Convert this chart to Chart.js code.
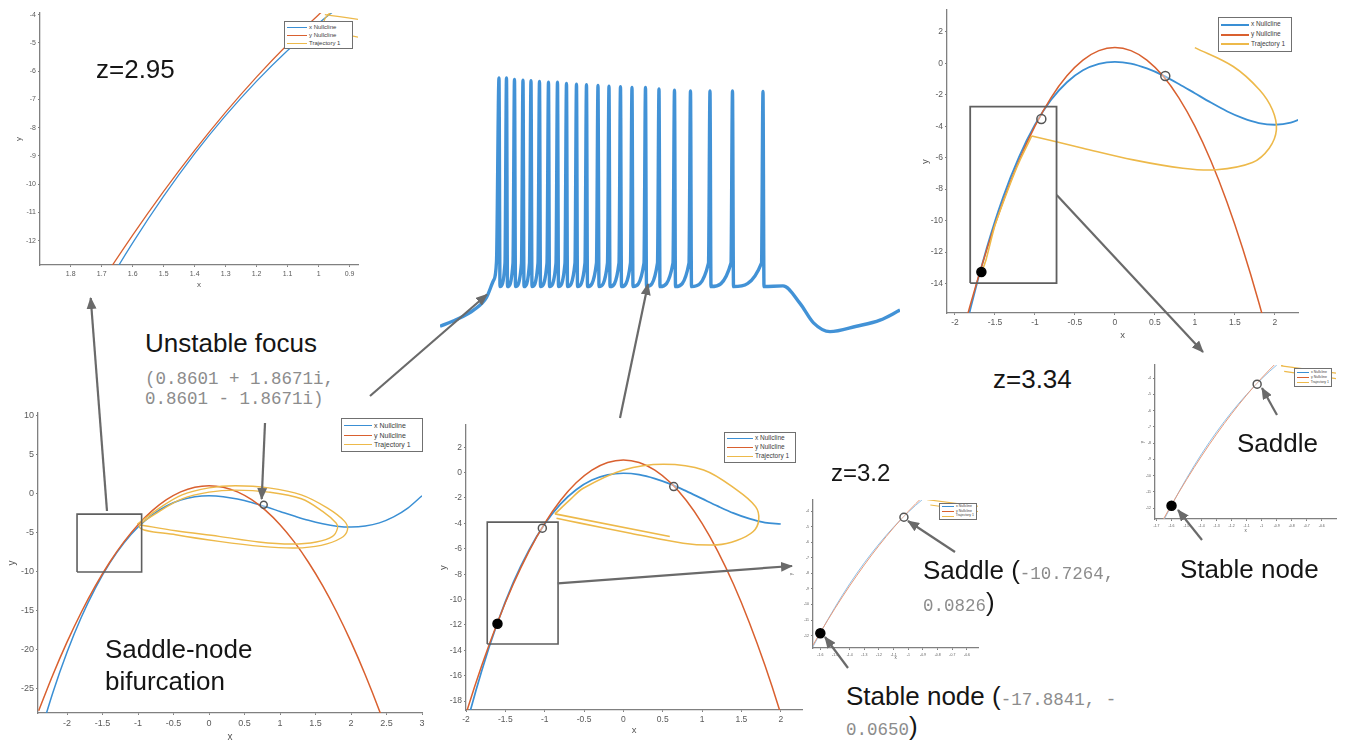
<!DOCTYPE html>
<html>
<head>
<meta charset="utf-8">
<script src="https://cdn.jsdelivr.net/npm/chart.js@4.4.1/dist/chart.umd.min.js"></script>
<style>
  body { margin:0; width:1345px; height:747px; position:relative; overflow:hidden; background:#fff; font-family:"Liberation Sans", Arial, sans-serif; }
  canvas { position:absolute; }
  .t { position:absolute; white-space:pre; color:#151515; font-size:26px; line-height:26px; z-index:3; }
  .m { font-family:"Liberation Mono", "Courier New", monospace; color:#8c8c8c; font-size:17.5px; }
  .lg { position:absolute; box-sizing:border-box; background:#fff; border:1px solid #707070; display:flex; flex-direction:column; justify-content:space-evenly; padding:0 2px; line-height:1; color:#3c3c3c; z-index:2; }
  .lg div { display:flex; align-items:center; white-space:nowrap; }
  .lg span { display:inline-block; margin-right:2px; }
  svg { position:absolute; left:0; top:0; z-index:5; }
</style>
</head>
<body>
<div class="t" style="left:96px;top:56px">z=2.95</div>
<div class="t" style="left:145px;top:330px">Unstable focus</div>
<div class="t m" style="left:145px;top:369px;line-height:20px">(0.8601 + 1.8671i,
0.8601 - 1.8671i)</div>
<div class="t" style="left:105px;top:633px;line-height:32px">Saddle-node
bifurcation</div>
<div class="t" style="left:831px;top:461px;font-size:24px;line-height:24px">z=3.2</div>
<div class="t" style="left:993px;top:366px">z=3.34</div>
<div class="t" style="left:923px;top:557px">Saddle (<span class="m">-10.7264,</span></div>
<div class="t" style="left:923px;top:589px"><span class="m">0.0826</span>)</div>
<div class="t" style="left:846px;top:683px">Stable node (<span class="m">-17.8841, -</span></div>
<div class="t" style="left:846px;top:713px"><span class="m">0.0650</span>)</div>
<div class="t" style="left:1237px;top:430px">Saddle</div>
<div class="t" style="left:1180px;top:556px">Stable node</div>
<svg id="arrows" width="1345" height="747"></svg>
<script>
Chart.defaults.font.family = '"Liberation Sans", Arial, sans-serif';

var BLUE = '#3a8fd4', RED = '#d9602f', YEL = '#edb94a';
var legendLabels = ['x Nullcline', 'y Nullcline', 'Trajectory 1'];
var legendColors = [BLUE, RED, YEL];

// nullclines, read on a 0.2 grid in x
var gridX = [-2.4,-2.2,-2.0,-1.8,-1.6,-1.4,-1.2,-1.0,-0.8,-0.6,-0.4,-0.2,0,0.2,0.4,0.6,0.8,1.0,1.2,1.4,1.6,1.8,2.0,2.2,2.4,2.6,2.8,3.0];
var yNull = [-27.8,-23.2,-19.0,-15.2,-11.8,-8.8,-6.2,-4.0,-2.2,-0.8,0.2,0.8,1.0,0.8,0.2,-0.8,-2.2,-4.0,-6.2,-8.8,-11.8,-15.2,-19.0,-23.2,-27.8,-32.8];
var xNull295 = [-31.40,-25.47,-20.30,-15.85,-12.08,-8.92,-6.35,-4.30,-2.73,-1.60,-0.84,-0.43,-0.30,-0.41,-0.72,-1.16,-1.71,-2.30,-2.89,-3.44,-3.88,-4.19,-4.30,-4.17,-3.76,-3.00,-1.87,-0.30];
var xNull32 = [-31.15,-25.22,-20.05,-15.60,-11.83,-8.67,-6.10,-4.05,-2.48,-1.35,-0.59,-0.18,-0.05,-0.16,-0.47,-0.91,-1.46,-2.05,-2.64,-3.19,-3.63,-3.94,-4.05];
var xNull334 = [-31.01,-25.08,-19.91,-15.46,-11.69,-8.53,-5.96,-3.91,-2.34,-1.21,-0.45,-0.04,0.09,-0.02,-0.33,-0.77,-1.32,-1.91,-2.50,-3.05,-3.49,-3.80,-3.91,-3.78,-3.37];

// trajectories [x, y]
var trajB = [[-1.01,-3.92],[-0.70,-1.87],[-0.38,-0.17],[0.0,0.72],[0.37,0.98],[0.84,0.72],[1.30,-0.17],[1.67,-1.87],[1.91,-3.57],[1.95,-4.65],[1.86,-5.70],[1.58,-6.64],[1.21,-6.98],[0.74,-6.77],[0.14,-6.13],[-0.47,-5.28],[-0.98,-4.35],
             [-0.70,-2.30],[-0.38,-0.68],[0.0,0.17],[0.37,0.43],[0.84,0.17],[1.30,-0.68],[1.60,-2.30],[1.79,-3.79],[1.81,-4.43],[1.74,-5.49],[1.51,-6.21],[1.16,-6.47],[0.70,-6.21],[0.14,-5.49],[-0.47,-4.77],[-0.98,-4.00]];
var trajC = [[-0.87,-3.25],[-0.68,-2.15],[-0.51,-1.23],[0.0,0.21],[0.51,0.66],[1.02,0.21],[1.44,-1.36],[1.68,-2.68],[1.72,-3.72],[1.65,-4.64],[1.44,-5.35],[1.19,-5.69],[0.76,-5.56],[0.09,-4.77],[-0.55,-3.98],[-0.85,-3.59]];
var trajCStart = [[-0.87,-3.25],[0.59,-5.04]];
var trajD = [[1.0,0.99],[1.48,-0.21],[1.81,-1.7],[1.97,-2.96],[2.02,-4.23],[1.93,-5.4],[1.72,-6.31],[1.27,-6.77],[0.85,-6.67],[0.23,-6.14],[-0.4,-5.4],[-1.04,-4.62]];
var trajDSlide = [[-1.04,-4.62],[-1.2,-6.3],[-1.32,-7.8],[-1.50,-10.3],[-1.61,-12.45],[-1.66,-13.2]];

// equilibria
var focusB = [[0.77,-1.45]];
var saddleC = [[-1.03,-4.38],[0.64,-1.1]], nodeC = [[-1.6,-11.9]];
var saddleD = [[-0.92,-3.54],[0.63,-0.81]], nodeD = [[-1.67,-13.27]];
var saddleZoom = [[-1.03,-4.38]], nodeZoom = [[-1.6,-11.85]];

// zoom boxes [x0, x1, y0, y1]
var boxB = [-1.86,-0.95,-10.05,-2.64];
var boxC = [-1.73,-0.83,-13.5,-3.9];
var boxD = [-1.81,-0.73,-13.97,-2.76];

// spike train
var spikeT = [118,133,149,166,182,199,217,235,253,273,293,316,338,361,384,411,438,469,501,540,585,646];
var spikePeak = [1.95,1.95,1.93,1.92,1.91,1.90,1.89,1.89,1.87,1.86,1.85,1.84,1.83,1.82,1.81,1.81,1.79,1.77,1.76,1.76,1.76,1.75];
var leadIn = [[0,-1.74],[33,-1.64],[67,-1.50],[93,-1.31],[107,-1.06],[113,-0.78]];
var tail = [[686,-1.14],[720,-1.40],[747,-1.69],[780,-1.82],[833,-1.74],[880,-1.65],[920,-1.50]];
var troughV = -1.15, preV = -0.8;

function pts(xs, ys) { return ys.map(function (y, i) { return { x: xs[i], y: y }; }); }
function pairs(list) { return list.map(function (p) { return { x: p[0], y: p[1] }; }); }
function rect(b) { return [[b[0],b[2]],[b[1],b[2]],[b[1],b[3]],[b[0],b[3]],[b[0],b[2]]]; }
function plain(v) { return String(Math.round(v * 1000) / 1000); }

function curve(data, color, w) {
    return { data: data, showLine: true, borderColor: color, borderWidth: w, pointRadius: 0, cubicInterpolationMode: 'monotone' };
}
function path(list, color, w, tension) {
    return { data: pairs(list), showLine: true, borderColor: color, borderWidth: w, pointRadius: 0, tension: tension };
}
function dots(list, filled, r) {
    return { data: pairs(list), showLine: false, pointRadius: r, pointBorderWidth: 1.5,
             pointBackgroundColor: filled ? '#000' : 'rgba(255,255,255,0.4)', pointBorderColor: filled ? '#000' : '#555' };
}

function axis(dir, r, fs, pad, size, title, fmt) {
    return {
        type: 'linear', min: r[0], max: r[1],
        ticks: { stepSize: r[2], includeBounds: false, autoSkip: false, maxRotation: 0, font: { size: fs }, color: '#5a5a5a',
                 padding: dir === 'x' ? 3 : 2, callback: fmt || plain },
        grid: { drawOnChartArea: false, tickLength: 2, color: '#808080' },
        border: { color: '#808080', width: 1.3 },
        title: { display: true, text: title, color: '#555', font: { size: fs + 1 },
                 padding: dir === 'x' ? { top: 0, bottom: pad } : { top: pad, bottom: 0 } },
        afterFit: function (s) {
            if (dir === 'x') s.height = size; else s.width = size;
            s.paddingLeft = s.paddingRight = s.paddingTop = s.paddingBottom = 0;
        }
    };
}

function panel(o) {
    var a = o.area, pt = 4, pr = 5;
    var c = document.createElement('canvas');
    var w = a[2] - a[0] + o.yw + pr, h = a[3] - a[1] + pt + o.xh;
    var left = a[0] - o.yw, top = a[1] - pt;
    c.width = w; c.height = h;
    c.style.left = left + 'px'; c.style.top = top + 'px';
    c.style.width = w + 'px'; c.style.height = h + 'px';
    document.body.appendChild(c);
    var lh = (o.fs + 1) * 1.2;
    var yPad = Math.max(0, o.yTitle - left - lh / 2);
    var xPad = Math.max(0, a[3] + o.xh - o.xTitle - lh / 2);
    new Chart(c, {
        type: 'scatter',
        data: { datasets: o.datasets },
        options: {
            responsive: false, animation: false, events: [], devicePixelRatio: 1,
            layout: { padding: { top: pt, right: pr, left: 0, bottom: 0 }, autoPadding: false },
            plugins: { legend: { display: false }, tooltip: { enabled: false } },
            scales: { x: axis('x', o.x, o.fs, xPad, o.xh, 'x', o.fmt), y: axis('y', o.y, o.fs, yPad, o.yw, 'y') }
        }
    });
}

function legend(box, fs, sw, lw) {
    var d = document.createElement('div');
    d.className = 'lg';
    d.style.cssText = 'left:' + box[0] + 'px;top:' + box[1] + 'px;width:' + box[2] + 'px;height:' + box[3] + 'px;font-size:' + fs + 'px;';
    legendLabels.forEach(function (lab, i) {
        var r = document.createElement('div');
        r.innerHTML = '<span style="width:' + sw + 'px;border-top:' + lw + 'px solid ' + legendColors[i] + '"></span>' + lab;
        d.appendChild(r);
    });
    document.body.appendChild(d);
}

// z = 2.95 zoom (top left)
panel({ area: [40, 13, 358, 265], yw: 40, xh: 30, fs: 7, yTitle: 19, xTitle: 285,
        x: [-1.899, -0.873, 0.1], y: [-12.86, -3.94, 1],
        fmt: function (v) { return String(Math.abs(Math.round(v * 10) / 10)); },
        datasets: [path(trajB, YEL, 1.3, 0.35), curve(pts(gridX, yNull), RED, 1.3), curve(pts(gridX, xNull295), BLUE, 1.3)] });

// z = 2.95 full (bottom left)
panel({ area: [38, 413, 422, 713], yw: 38, xh: 30, fs: 9, yTitle: 12.7, xTitle: 737,
        x: [-2.41, 3.0, 0.5], y: [-28.1, 10.3, 5],
        datasets: [path(rect(boxB), '#5f5f5f', 1.6, 0), dots(focusB, false, 3.5), path(trajB, YEL, 1.4, 0.35),
                   curve(pts(gridX, yNull), RED, 1.5), curve(pts(gridX, xNull295), BLUE, 1.5)] });

// z = 3.2 (bottom middle)
panel({ area: [466, 425, 802, 710], yw: 30, xh: 28, fs: 8.5, yTitle: 443, xTitle: 730,
        x: [-2.0, 2.27, 0.5], y: [-18.7, 3.75, 2],
        datasets: [path(rect(boxC), '#5f5f5f', 1.6, 0), dots(nodeC, true, 4.5), dots(saddleC, false, 4),
                   path(trajC, YEL, 1.6, 0.35), path(trajCStart, YEL, 1.6, 0),
                   curve(pts(gridX, yNull), RED, 1.5), curve(pts(gridX, xNull32), BLUE, 1.7)] });

// z = 3.34 (top right)
panel({ area: [947, 10, 1298, 313], yw: 36, xh: 28, fs: 8.5, yTitle: 925, xTitle: 335,
        x: [-2.1, 2.29, 0.5], y: [-15.87, 3.38, 2],
        datasets: [path(rect(boxD), '#5f5f5f', 1.8, 0), dots(nodeD, true, 4.5), dots(saddleD, false, 4.5),
                   path(trajD, YEL, 1.6, 0.35), path(trajDSlide, YEL, 1.6, 0.2),
                   curve(pts(gridX, yNull), RED, 1.5), curve(pts(gridX, xNull334), BLUE, 1.8)] });

// zoom insets of the saddle-node pair
var insetSets = function () {
    return [dots(nodeZoom, true, 4.5), dots(saddleZoom, false, 4), path(trajC, YEL, 1.2, 0.35), path(trajCStart, YEL, 1.2, 0),
            curve(pts(gridX, yNull), '#e89a7a', 1), curve(pts(gridX, xNull32), '#8fc0e8', 1)];
};
panel({ area: [813, 500, 978, 648], yw: 26, xh: 14, fs: 3.5, yTitle: 792, xTitle: 658,
        x: [-1.65, -0.525, 0.1], y: [-12.8, -3.27, 1], datasets: insetSets() });
panel({ area: [1155, 365, 1336, 519], yw: 26, xh: 14, fs: 3.5, yTitle: 1143, xTitle: 531,
        x: [-1.71, -0.505, 0.1], y: [-12.67, -3.2, 1], datasets: insetSets() });

// spike train (no axes)
var trace = leadIn.slice();
spikeT.forEach(function (t, i) {
    if (i > 0) trace.push([t - 3, preV]);
    trace.push([t, spikePeak[i]]);
    trace.push([t + 2, troughV]);
});
trace = trace.concat(tail);
(function () {
    var c = document.createElement('canvas');
    c.width = 460; c.height = 265;
    c.style.left = '440px'; c.style.top = '70px'; c.style.width = '460px'; c.style.height = '265px';
    document.body.appendChild(c);
    new Chart(c, {
        type: 'scatter',
        data: { datasets: [{ data: pairs(trace), showLine: true, borderColor: 'rgba(25,122,205,0.82)', borderWidth: 3.4,
                             pointRadius: 0, cubicInterpolationMode: 'monotone' }] },
        options: {
            responsive: false, animation: false, events: [], devicePixelRatio: 1,
            layout: { padding: 0, autoPadding: false },
            plugins: { legend: { display: false }, tooltip: { enabled: false } },
            scales: { x: { type: 'linear', display: false, min: 0, max: 920 }, y: { type: 'linear', display: false, min: -1.87, max: 2.07 } }
        }
    });
})();

legend([284, 21, 69, 28], 6, 20, 1);
legend([341, 418, 82, 34], 7, 28, 1.2);
legend([724, 432, 72, 31], 6.5, 26, 1.5);
legend([1218, 17, 74, 35], 6.5, 28, 2);
legend([939, 503, 38, 17], 3.5, 12, 1);
legend([1294, 368, 38, 19], 3.5, 12, 1);

// annotation arrows: [x1, y1, x2 (tip), y2]
var arrows = [[107,511,90.7,298],[265,423,261.7,499],[370,396,487,294.5],[620,418,648,284],[557.7,583.3,792,566],
              [1056.7,195,1203,352],[955,552,908,521],[848,668,825,637],[1277,415,1262,388],[1202,540,1178,510]];
var svg = '<defs><marker id="ah" viewBox="0 0 12 10" refX="11" refY="5" markerWidth="12" markerHeight="10" markerUnits="userSpaceOnUse" orient="auto">' +
          '<path d="M0,0 L12,5 L0,10 z" fill="#6a6a6a"/></marker></defs>';
arrows.forEach(function (a) {
    svg += '<line x1="' + a[0] + '" y1="' + a[1] + '" x2="' + a[2] + '" y2="' + a[3] + '" stroke="#6a6a6a" stroke-width="2.2" marker-end="url(#ah)"/>';
});
document.getElementById('arrows').innerHTML = svg;
</script>
</body>
</html>
